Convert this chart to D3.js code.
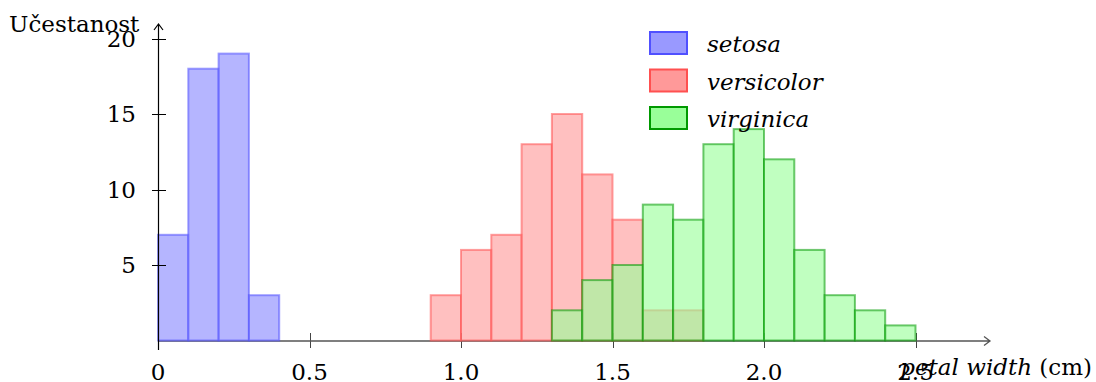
<!DOCTYPE html>
<html>
<head>
<meta charset="utf-8">
<script src="https://cdn.jsdelivr.net/npm/d3@7"></script>
<style>
  body { margin: 0; background: #fff; }
  svg { display: block; font-family: "DejaVu Serif", serif; }
</style>
</head>
<body>
<svg width="1096" height="382"></svg>
<script>
// histogram data, bin width 0.1 cm
var binWidth = 0.1;
var species = ["setosa", "versicolor", "virginica"];
var setosaStart = 0.0;
var setosaCounts = [7, 18, 19, 3];
var versicolorStart = 0.9;
var versicolorCounts = [3, 6, 7, 13, 15, 11, 8, 2, 2];
var virginicaStart = 1.3;
var virginicaCounts = [2, 4, 5, 9, 8, 13, 14, 12, 6, 3, 2, 1];

var xTicks = [0, 0.5, 1.0, 1.5, 2.0, 2.5];
var xTickLabels = ["0", "0.5", "1.0", "1.5", "2.0", "2.5"];
var yTicks = [5, 10, 15, 20];

var svg = d3.select("svg"),
    x = d3.scaleLinear().domain([0, 2.5]).range([158, 915.5]),
    y = d3.scaleLinear().domain([0, 20]).range([340.5, 38.5]);

var styles = {
  setosa:     { fill: "#9999ff", op: 0.72, stroke: "#5050ff", legend: "#9999ff", border: "#5050ff" },
  versicolor: { fill: "#ff9999", op: 0.62, stroke: "#ff5050", legend: "#ff9999", border: "#ff5050" },
  virginica:  { fill: "#99ff99", op: 0.62, stroke: "#009900", legend: "#99ff99", border: "#009900" }
};

function bins(start, counts) {
  return counts.map(function(c, i) {
    return { x0: start + i * binWidth, x1: start + (i + 1) * binWidth, n: c };
  });
}

var series = [
  { name: "setosa", bins: bins(setosaStart, setosaCounts) },
  { name: "versicolor", bins: bins(versicolorStart, versicolorCounts) },
  { name: "virginica", bins: bins(virginicaStart, virginicaCounts) }
];

// x ticks (drawn below bars)
svg.append("g").selectAll("line")
    .data(xTicks.slice(1))
  .enter().append("line")
    .attr("x1", function(d) { return Math.round(x(d)) + 0.5; })
    .attr("x2", function(d) { return Math.round(x(d)) + 0.5; })
    .attr("y1", 333).attr("y2", 348)
    .attr("stroke", "#444").attr("stroke-width", 1);

// x axis line + arrow
svg.append("path")
    .attr("d", "M158,341H990M984,336.5L990,341L984,345.5")
    .attr("fill", "none").attr("stroke", "#555").attr("stroke-width", 1.3);

// bars
series.forEach(function(s) {
  var st = styles[s.name];
  svg.append("g").selectAll("rect")
      .data(s.bins)
    .enter().append("rect")
      .attr("x", function(d) { return x(d.x0); })
      .attr("y", function(d) { return y(d.n); })
      .attr("width", function(d) { return x(d.x1) - x(d.x0); })
      .attr("height", function(d) { return y(0) - y(d.n); })
      .attr("fill", st.fill).attr("fill-opacity", st.op)
      .attr("stroke", st.stroke).attr("stroke-opacity", 0.55)
      .attr("stroke-width", 2);
});

// y axis line + arrow
svg.append("path")
    .attr("d", "M158.5,350V24M154,30L158.5,24L163,30")
    .attr("fill", "none").attr("stroke", "#000").attr("stroke-width", 1.2);

svg.append("g").selectAll("line")
    .data(yTicks)
  .enter().append("line")
    .attr("x1", 152).attr("x2", 166)
    .attr("y1", function(d) { return Math.round(y(d)) + 0.5; })
    .attr("y2", function(d) { return Math.round(y(d)) + 0.5; })
    .attr("stroke", "#000").attr("stroke-width", 1);

// tick labels
svg.append("g").selectAll("text")
    .data(yTicks)
  .enter().append("text")
    .attr("x", 136)
    .attr("y", function(d) { return y(d) + 8; })
    .attr("text-anchor", "end")
    .attr("font-size", 23)
    .text(function(d) { return d; });

svg.append("g").selectAll("text")
    .data(xTicks)
  .enter().append("text")
    .attr("x", function(d) { return x(d); })
    .attr("y", 380)
    .attr("text-anchor", "middle")
    .attr("font-size", 23)
    .text(function(d, i) { return xTickLabels[i]; });

// axis titles
svg.append("text")
    .attr("x", 9).attr("y", 32)
    .attr("font-size", 23)
    .text("Učestanost");

var xl = svg.append("text")
    .attr("x", 1092).attr("y", 375)
    .attr("text-anchor", "end")
    .attr("font-size", 23);
xl.append("tspan").attr("font-style", "italic").text("petal width");
xl.append("tspan").text(" (cm)");

// legend
var legend = svg.append("g").selectAll("g")
    .data(species)
  .enter().append("g")
    .attr("transform", function(d, i) { return "translate(650," + (32 + i * 37.5) + ")"; });

legend.append("rect")
    .attr("width", 37).attr("height", 22)
    .attr("fill", function(d) { return styles[d].legend; })
    .attr("stroke", function(d) { return styles[d].border; })
    .attr("stroke-width", 2);

legend.append("text")
    .attr("x", 57).attr("y", 20)
    .attr("font-size", 23)
    .attr("font-style", "italic")
    .text(function(d) { return d; });
</script>
</body>
</html>
